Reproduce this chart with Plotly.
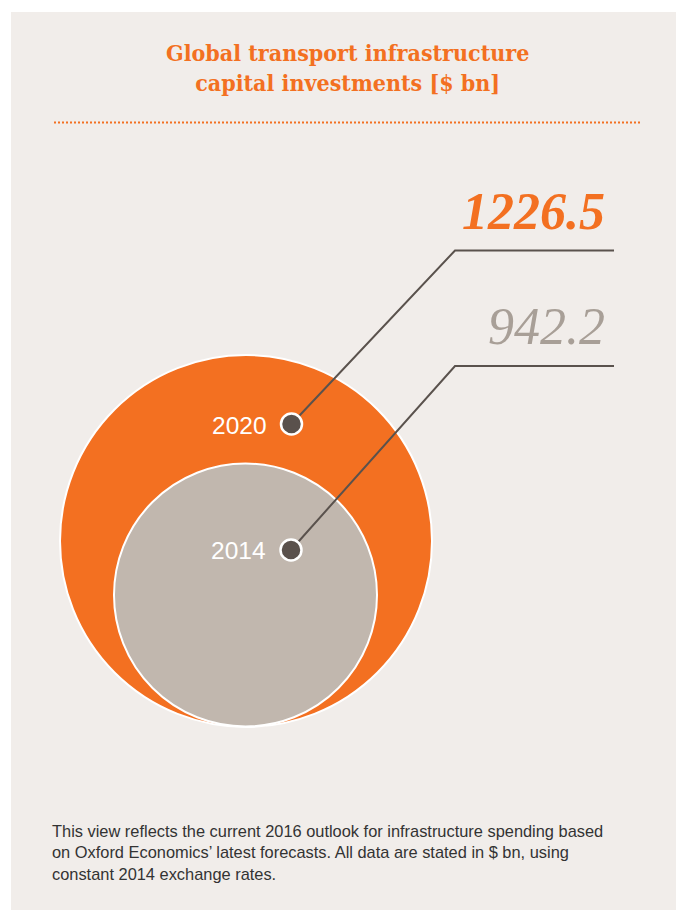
import plotly.graph_objects as go

# ---- data ----
years = ["2020", "2014"]
values = [1226.5, 942.2]
value_colors = ["#f37021", "#a89f97"]
circle_colors = ["#f37021", "#c1b7ae"]
title_lines = ["Global transport infrastructure", "capital investments [$ bn]"]
footnote_lines = [
    "This view reflects the current 2016 outlook for infrastructure spending based",
    "on Oxford Economics\u2019 latest forecasts. All data are stated in $ bn, using",
    "constant 2014 exchange rates.",
]

# ---- layout constants (page pixel space; page body has an 8px margin) ----
OFF = 8
W, H = 684, 910
circles = [  # (cx, cy, r)
    (246, 541, 186),
    (245.5, 595, 131.5),
]
dots = [(291.5, 424), (291, 550)]
elbows = [(455, 250.5), (455, 366)]
line_end_x = 614
value_label_pos = [(607, 211), (607, 326)]
year_label_pos = [(269, 425), (268, 550)]

fig = go.Figure()

shapes = []
shapes.append(dict(type="rect", xref="x", yref="y", x0=11, x1=679, y0=12, y1=910,
                   fillcolor="#f1edea", line=dict(width=0), layer="below"))
shapes.append(dict(type="line", xref="x", yref="y", x0=54, x1=641, y0=122.5, y1=122.5,
                   line=dict(color="#f37021", width=2, dash="2px,2px"), layer="below"))
for (cx, cy, r), col in zip(circles, circle_colors):
    shapes.append(dict(type="circle", xref="x", yref="y", x0=cx - r, x1=cx + r,
                       y0=cy - r, y1=cy + r, fillcolor=col,
                       line=dict(color="white", width=2), layer="below"))
for (dx, dy), (ex, ey) in zip(dots, elbows):
    shapes.append(dict(type="path", xref="x", yref="y",
                       path=f"M {dx},{dy} L {ex},{ey} L {line_end_x},{ey}",
                       line=dict(color="#5a524d", width=2), layer="below"))

fig.add_trace(go.Scatter(
    x=[d[0] for d in dots], y=[d[1] for d in dots], mode="markers",
    marker=dict(size=21, color="#5a514c", line=dict(color="white", width=2.5)),
    hoverinfo="skip", showlegend=False, cliponaxis=False,
))

annotations = []
annotations.append(dict(x=347, y=67, xref="x", yref="y", text="<br>".join(title_lines),
                        showarrow=False, xanchor="center", yanchor="middle", align="center",
                        font=dict(family="DejaVu Serif Condensed, DejaVu Serif, serif", size=23,
                                  weight="bold", color="#f37021")))
for (x, y), v, col, bold in zip(value_label_pos, values, value_colors, [True, False]):
    txt = f"{v:.1f}"
    if bold:
        txt = f"<b>{txt}</b>"
    annotations.append(dict(x=x, y=y, xref="x", yref="y", text=f"<i>{txt}</i>",
                            showarrow=False, xanchor="right", yanchor="middle",
                            font=dict(family="Liberation Serif, serif", size=52, color=col)))
for (x, y), yr in zip(year_label_pos, years):
    annotations.append(dict(x=x, y=y, xref="x", yref="y", text=yr, showarrow=False,
                            xanchor="right", yanchor="middle",
                            font=dict(family="Liberation Sans, Arial, sans-serif", size=24.5, color="white")))
annotations.append(dict(x=50, y=852, xref="x", yref="y", text="<br>".join(footnote_lines),
                        showarrow=False, xanchor="left", yanchor="middle", align="left",
                        font=dict(family="Liberation Sans Narrow, Arial Narrow, Liberation Sans, sans-serif",
                                  size=16.4, color="#333333")))

fig.update_layout(
    width=W - OFF, height=H - OFF, autosize=False,
    margin=dict(l=0, r=0, t=0, b=0),
    paper_bgcolor="white", plot_bgcolor="white",
    xaxis=dict(range=[OFF, W], visible=False, fixedrange=True),
    yaxis=dict(range=[H, OFF], visible=False, fixedrange=True),
    shapes=shapes, annotations=annotations,
)

fig.write_html("out.html", config={"displayModeBar": False})
